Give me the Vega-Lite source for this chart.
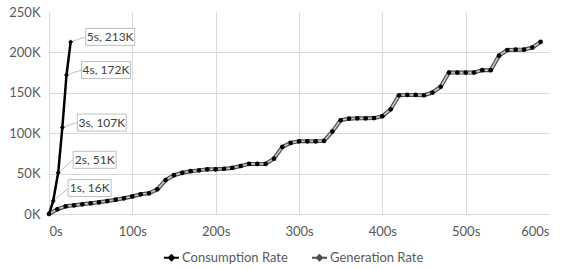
{
  "$schema": "https://vega.github.io/schema/vega-lite/v6.json",
  "width": 500,
  "height": 202,
  "autosize": "none",
  "padding": {"left": 49, "top": 12, "right": 12, "bottom": 55},
  "background": "white",
  "config": {
    "font": "Lato",
    "view": {"stroke": null},
    "axis": {"labelFont": "Lato", "labelFontSize": 13, "labelColor": "#595959", "domain": false, "ticks": false, "gridColor": "#d9d9d9", "gridWidth": 1}
  },
  "data": {
    "values": [
      {"series": "Consumption Rate", "t": 0, "v": 0, "label": ""},
      {"series": "Consumption Rate", "t": 5, "v": 16000, "label": "1s, 16K"},
      {"series": "Consumption Rate", "t": 11, "v": 51000, "label": "2s, 51K"},
      {"series": "Consumption Rate", "t": 16, "v": 107000, "label": "3s, 107K"},
      {"series": "Consumption Rate", "t": 21, "v": 172000, "label": "4s, 172K"},
      {"series": "Consumption Rate", "t": 26, "v": 213000, "label": "5s, 213K"},
      {"series": "Generation Rate", "t": 0, "v": 0},
      {"series": "Generation Rate", "t": 10, "v": 5800},
      {"series": "Generation Rate", "t": 20, "v": 9500},
      {"series": "Generation Rate", "t": 30, "v": 10700},
      {"series": "Generation Rate", "t": 40, "v": 12000},
      {"series": "Generation Rate", "t": 50, "v": 13200},
      {"series": "Generation Rate", "t": 60, "v": 14500},
      {"series": "Generation Rate", "t": 70, "v": 16000},
      {"series": "Generation Rate", "t": 80, "v": 17700},
      {"series": "Generation Rate", "t": 90, "v": 19400},
      {"series": "Generation Rate", "t": 100, "v": 21700},
      {"series": "Generation Rate", "t": 110, "v": 24400},
      {"series": "Generation Rate", "t": 120, "v": 25600},
      {"series": "Generation Rate", "t": 130, "v": 30500},
      {"series": "Generation Rate", "t": 140, "v": 42000},
      {"series": "Generation Rate", "t": 150, "v": 48000},
      {"series": "Generation Rate", "t": 160, "v": 51000},
      {"series": "Generation Rate", "t": 170, "v": 53000},
      {"series": "Generation Rate", "t": 180, "v": 54000},
      {"series": "Generation Rate", "t": 190, "v": 55300},
      {"series": "Generation Rate", "t": 200, "v": 55300},
      {"series": "Generation Rate", "t": 210, "v": 56000},
      {"series": "Generation Rate", "t": 220, "v": 57000},
      {"series": "Generation Rate", "t": 230, "v": 59400},
      {"series": "Generation Rate", "t": 240, "v": 62000},
      {"series": "Generation Rate", "t": 250, "v": 62000},
      {"series": "Generation Rate", "t": 260, "v": 62000},
      {"series": "Generation Rate", "t": 270, "v": 68500},
      {"series": "Generation Rate", "t": 280, "v": 83000},
      {"series": "Generation Rate", "t": 290, "v": 88000},
      {"series": "Generation Rate", "t": 300, "v": 90000},
      {"series": "Generation Rate", "t": 310, "v": 90000},
      {"series": "Generation Rate", "t": 320, "v": 90000},
      {"series": "Generation Rate", "t": 330, "v": 90500},
      {"series": "Generation Rate", "t": 340, "v": 102000},
      {"series": "Generation Rate", "t": 350, "v": 116000},
      {"series": "Generation Rate", "t": 360, "v": 118000},
      {"series": "Generation Rate", "t": 370, "v": 118400},
      {"series": "Generation Rate", "t": 380, "v": 118400},
      {"series": "Generation Rate", "t": 390, "v": 118700},
      {"series": "Generation Rate", "t": 400, "v": 121000},
      {"series": "Generation Rate", "t": 410, "v": 129600},
      {"series": "Generation Rate", "t": 420, "v": 147000},
      {"series": "Generation Rate", "t": 430, "v": 147400},
      {"series": "Generation Rate", "t": 440, "v": 147400},
      {"series": "Generation Rate", "t": 450, "v": 147000},
      {"series": "Generation Rate", "t": 460, "v": 150300},
      {"series": "Generation Rate", "t": 470, "v": 157500},
      {"series": "Generation Rate", "t": 480, "v": 175000},
      {"series": "Generation Rate", "t": 490, "v": 175000},
      {"series": "Generation Rate", "t": 500, "v": 175000},
      {"series": "Generation Rate", "t": 510, "v": 175000},
      {"series": "Generation Rate", "t": 520, "v": 178000},
      {"series": "Generation Rate", "t": 530, "v": 178000},
      {"series": "Generation Rate", "t": 540, "v": 196000},
      {"series": "Generation Rate", "t": 550, "v": 203000},
      {"series": "Generation Rate", "t": 560, "v": 203400},
      {"series": "Generation Rate", "t": 570, "v": 203400},
      {"series": "Generation Rate", "t": 580, "v": 206000},
      {"series": "Generation Rate", "t": 590, "v": 213000}
    ]
  },
  "encoding": {
    "x": {"field": "t", "type": "quantitative", "title": null,
      "scale": {"domain": [0, 600], "nice": false},
      "axis": {"values": [0, 100, 200, 300, 400, 500, 600], "labelExpr": "datum.value + 's'", "labelPadding": 11,
        "gridColor": {"condition": {"test": "datum.value == 600", "value": "transparent"}, "value": "#d9d9d9"}}},
    "y": {"field": "v", "type": "quantitative", "title": null,
      "scale": {"domain": [0, 250000], "nice": false},
      "axis": {"values": [0, 50000, 100000, 150000, 200000, 250000], "labelExpr": "(datum.value / 1000) + 'K'", "labelPadding": 9,
        "gridColor": {"condition": {"test": "datum.value == 250000", "value": "transparent"}, "value": "#d9d9d9"}}}
  },
  "layer": [
    {
      "transform": [{"filter": "datum.series == 'Generation Rate'"}],
      "mark": {"type": "line", "strokeWidth": 4, "strokeJoin": "round"},
      "encoding": {
        "color": {"field": "series", "type": "nominal", "title": null,
          "scale": {"domain": ["Consumption Rate", "Generation Rate"], "range": ["#000000", "#4d4d4d"]},
          "legend": {"orient": "none", "legendX": 114, "legendY": 237, "direction": "horizontal",
            "labelFont": "Lato", "labelFontSize": 13, "labelColor": "#595959", "labelOffset": 2, "columnPadding": 20,
            "symbolType": "M-1,0H1M0,-0.35L0.35,0L0,0.35L-0.35,0Z", "symbolSize": 225, "symbolStrokeWidth": 2,
            "symbolFillColor": "#000000", "symbolStrokeColor": "#000000"}}
      }
    },
    {
      "transform": [{"filter": "datum.series == 'Generation Rate'"}],
      "mark": {"type": "line", "strokeWidth": 1.6, "color": "#c8c8c8", "strokeJoin": "round"},
      "encoding": {}
    },
    {
      "transform": [{"filter": "datum.series == 'Generation Rate'"}],
      "mark": {"type": "point", "filled": true, "color": "#000000", "size": 22, "opacity": 1},
      "encoding": {}
    },
    {
      "transform": [{"filter": "datum.series == 'Consumption Rate' && datum.v >= 100000"}],
      "mark": {"type": "point", "shape": "M0,0L0.5,-0.17", "size": 3600, "filled": false, "stroke": "#bfbfbf", "strokeWidth": 1, "opacity": 1},
      "encoding": {}
    },
    {
      "transform": [{"filter": "datum.series == 'Consumption Rate' && datum.v > 0 && datum.v < 100000"}],
      "mark": {"type": "point", "shape": "M0,0L0.5,-0.43", "size": 3600, "filled": false, "stroke": "#bfbfbf", "strokeWidth": 1, "opacity": 1},
      "encoding": {}
    },
    {
      "transform": [{"filter": "datum.series == 'Consumption Rate'"}],
      "mark": {"type": "line", "strokeWidth": 2.5, "strokeJoin": "round"},
      "encoding": {"color": {"field": "series", "type": "nominal", "legend": null}}
    },
    {
      "transform": [{"filter": "datum.series == 'Consumption Rate'"}],
      "mark": {"type": "point", "shape": "diamond", "filled": true, "color": "#000000", "size": 24, "opacity": 1},
      "encoding": {}
    },
    {
      "transform": [{"filter": "datum.series == 'Consumption Rate' && datum.v >= 100000"}],
      "mark": {"type": "point", "shape": "M0.5,-0.45H2.133V0.117H0.5Z", "size": 3600, "filled": true, "fill": "#ffffff", "stroke": "#bfbfbf", "strokeWidth": 1, "opacity": 1},
      "encoding": {}
    },
    {
      "transform": [{"filter": "datum.series == 'Consumption Rate' && datum.v > 0 && datum.v < 100000"}],
      "mark": {"type": "point", "shape": "M0.5,-0.717H1.933V-0.15H0.5Z", "size": 3600, "filled": true, "fill": "#ffffff", "stroke": "#bfbfbf", "strokeWidth": 1, "opacity": 1},
      "encoding": {}
    },
    {
      "transform": [{"filter": "datum.series == 'Consumption Rate' && datum.v >= 100000"}],
      "mark": {"type": "text", "font": "Lato", "fontSize": 12, "color": "#404040", "align": "center", "baseline": "middle", "dx": 39.5, "dy": -5},
      "encoding": {"text": {"field": "label"}}
    },
    {
      "transform": [{"filter": "datum.series == 'Consumption Rate' && datum.v > 0 && datum.v < 100000"}],
      "mark": {"type": "text", "font": "Lato", "fontSize": 12, "color": "#404040", "align": "center", "baseline": "middle", "dx": 36.5, "dy": -13},
      "encoding": {"text": {"field": "label"}}
    }
  ]
}
